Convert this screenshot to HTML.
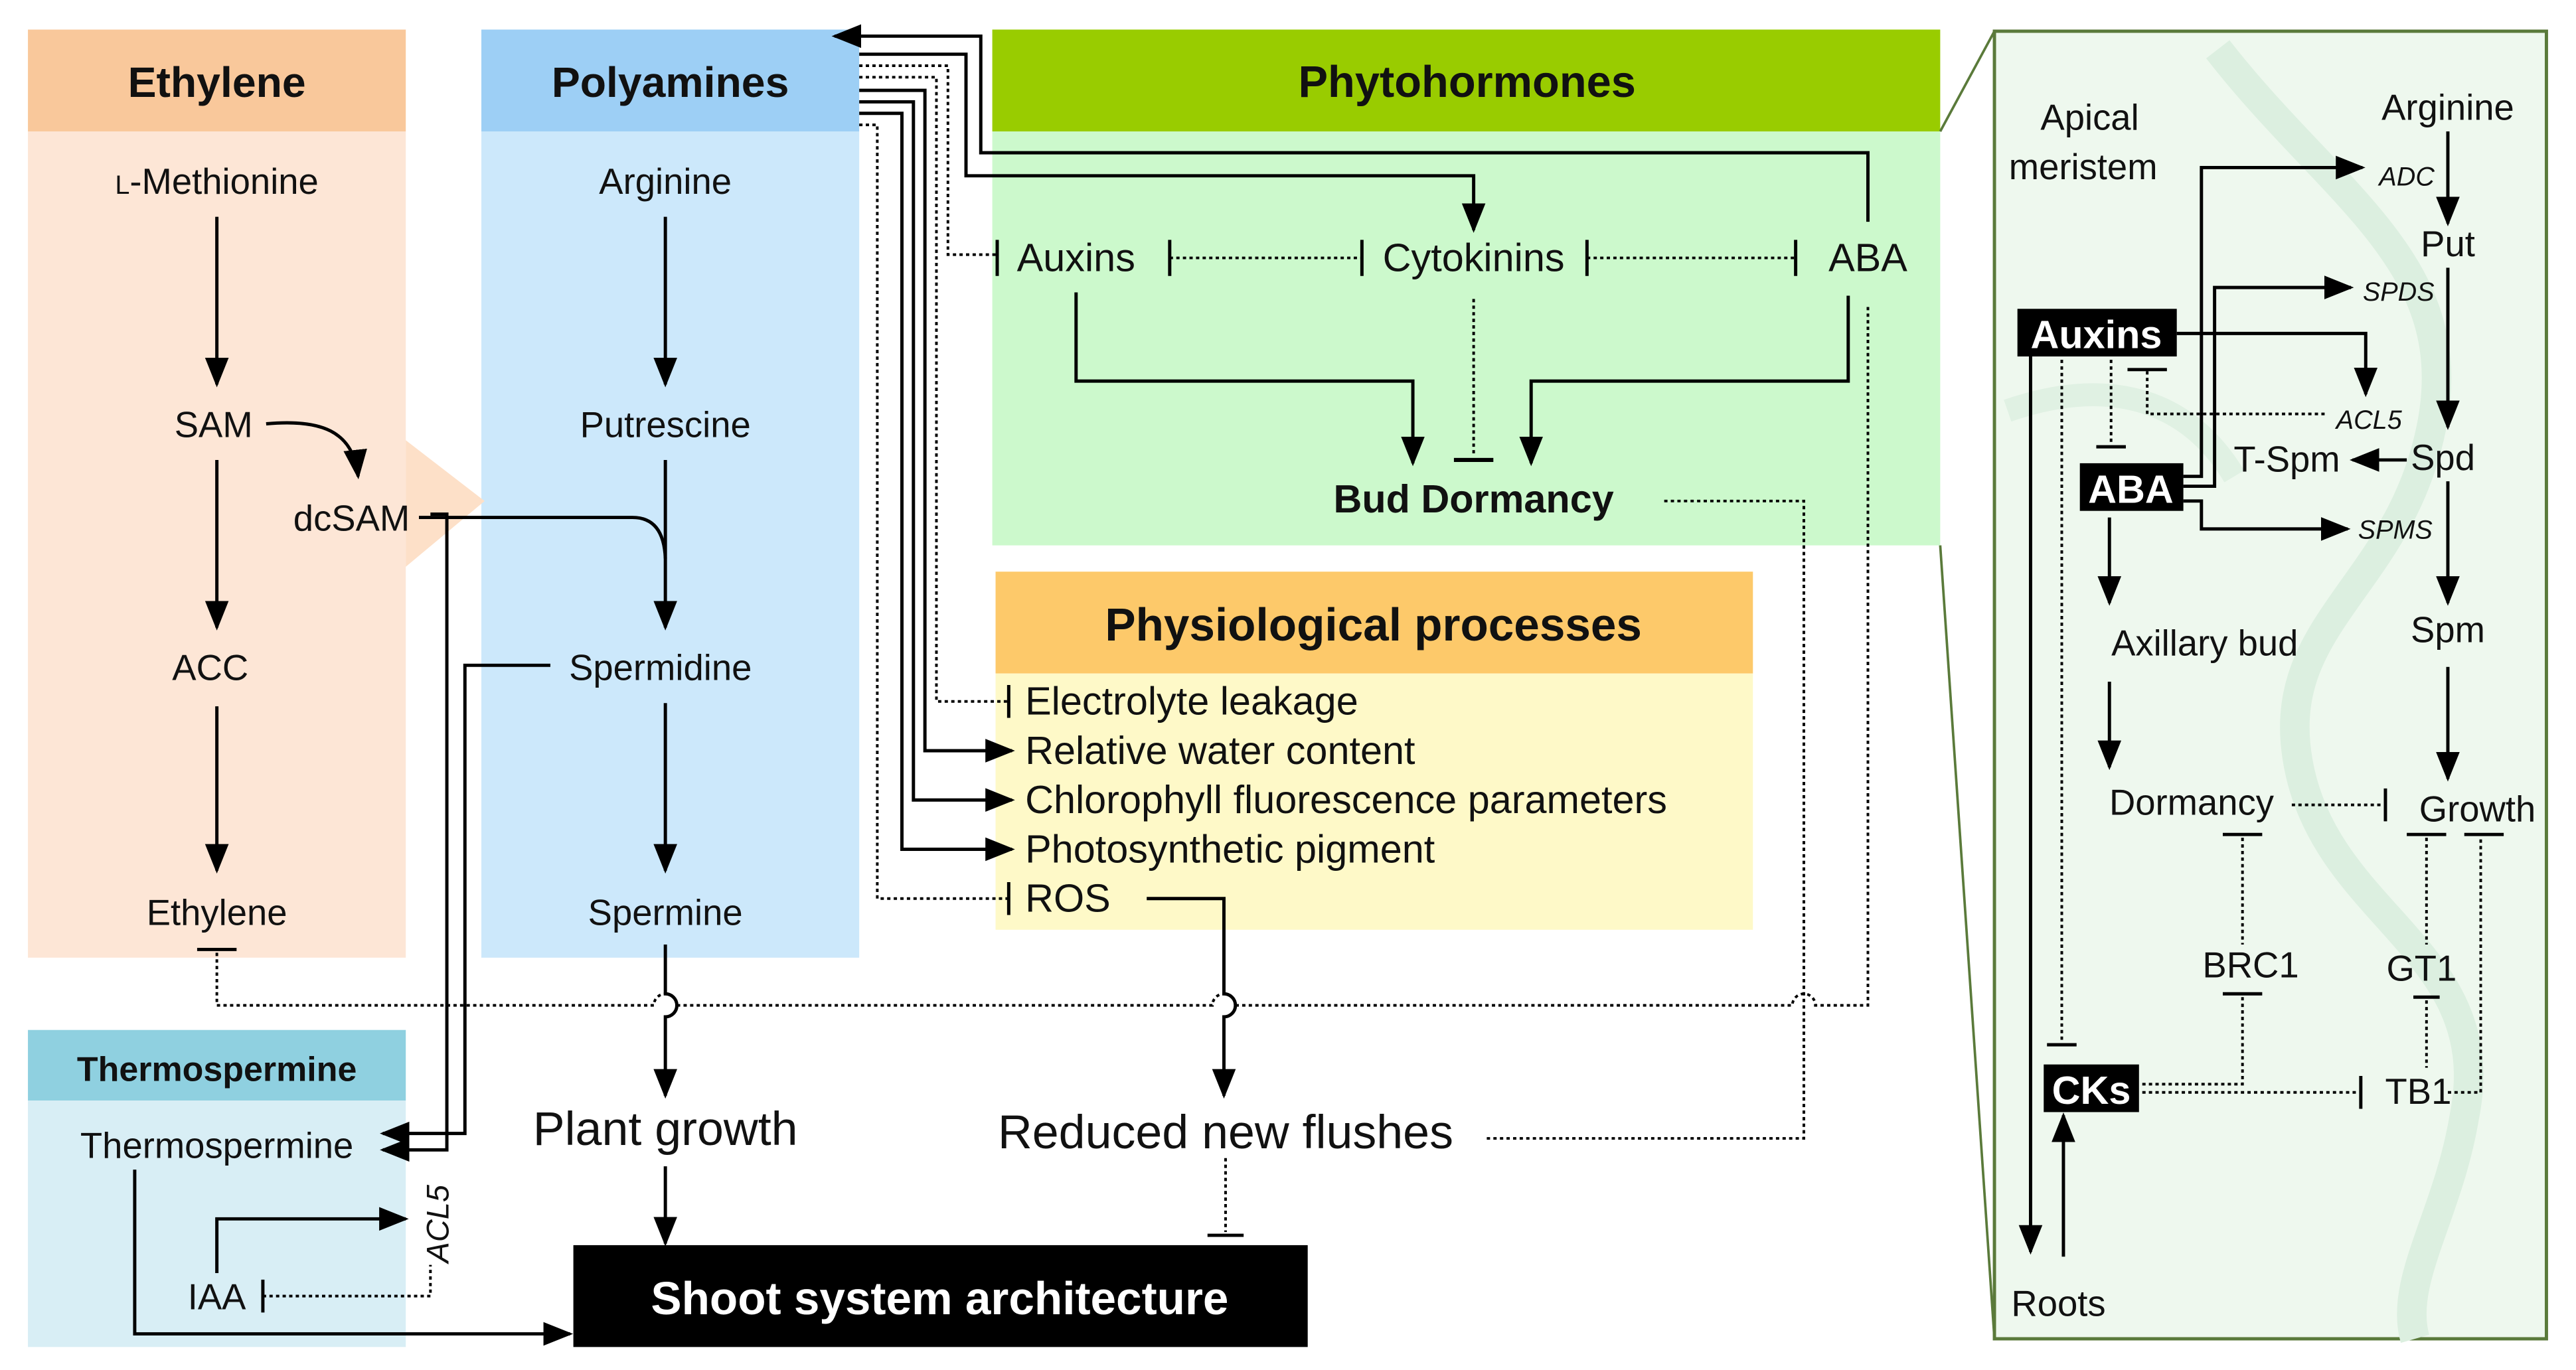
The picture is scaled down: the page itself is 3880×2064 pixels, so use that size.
<!DOCTYPE html>
<html><head><meta charset="utf-8"><style>
html,body{margin:0;padding:0;background:#fff}
svg{display:block}
text{font-family:"Liberation Sans Narrow","Liberation Sans",sans-serif;fill:#111}
.b{font-weight:bold}
.r{font-family:"Liberation Sans",sans-serif}
</style></head><body>
<svg width="3880" height="2064" viewBox="0 0 1568 834" preserveAspectRatio="none" xmlns="http://www.w3.org/2000/svg">
<defs>
<marker id="A" viewBox="0 0 10 10" refX="9" refY="5" markerWidth="18" markerHeight="18" orient="auto-start-reverse" markerUnits="userSpaceOnUse"><path d="M0,1L10,5L0,9z" fill="#000"/></marker>
</defs>
<!-- panels -->
<rect x="17" y="18" width="230" height="62" fill="#f9c89b"/>
<rect x="17" y="80" width="230" height="503" fill="#fde6d6"/>
<rect x="293" y="18" width="230" height="62" fill="#9dcff5"/>
<rect x="293" y="80" width="230" height="503" fill="#cce8fb"/>
<path d="M247,268 L295,305 L247,345 Z" fill="#fde0c8"/>
<rect x="604" y="18" width="577" height="62" fill="#99cc00"/>
<rect x="604" y="80" width="577" height="252" fill="#ccf9cc"/>
<rect x="606" y="348" width="461" height="62" fill="#fdc96a"/>
<rect x="606" y="410" width="461" height="156" fill="#fef9c8"/>
<rect x="17" y="627" width="230" height="43" fill="#8fd0e0"/>
<rect x="17" y="670" width="230" height="150" fill="#d8eef5"/>
<rect x="1214" y="19" width="336" height="796" fill="#eef8ee" stroke="#5a7a3a" stroke-width="2"/>
<path d="M1350,30 C1420,120 1500,160 1480,260 C1460,360 1380,380 1400,470 C1420,560 1520,580 1500,680 C1490,740 1460,780 1470,815" fill="none" stroke="#dcefe0" stroke-width="18"/>
<path d="M1222,250 C1280,230 1330,240 1360,290" fill="none" stroke="#e0f1e3" stroke-width="14"/>
<line x1="1181" y1="80" x2="1214" y2="19" stroke="#5a7a3a" stroke-width="1.5"/>
<line x1="1181" y1="332" x2="1214" y2="815" stroke="#5a7a3a" stroke-width="1.5"/>
<rect x="349" y="758" width="447" height="62" fill="#000"/>

<!-- headers -->
<text x="132" y="59" font-size="26" text-anchor="middle" class="b r">Ethylene</text>
<text x="408" y="59" font-size="26" text-anchor="middle" class="b r">Polyamines</text>
<text x="893" y="59" font-size="27" text-anchor="middle" class="b">Phytohormones</text>
<text x="836" y="390" font-size="28" text-anchor="middle" class="b">Physiological processes</text>
<text x="132" y="658" font-size="21" text-anchor="middle" class="b r">Thermospermine</text>
<text x="572" y="800" font-size="28" text-anchor="middle" class="b r" style="fill:#fff">Shoot system architecture</text>

<g font-size="22" text-anchor="middle" class="r">
<text x="132" y="118"><tspan font-size="16">L</tspan>-Methionine</text>
<text x="130" y="266">SAM</text>
<text x="214" y="323">dcSAM</text>
<text x="128" y="414">ACC</text>
<text x="132" y="563">Ethylene</text>
<text x="405" y="118">Arginine</text>
<text x="405" y="266">Putrescine</text>
<text x="402" y="414">Spermidine</text>
<text x="405" y="563">Spermine</text>
<text x="132" y="705">Thermospermine</text>
<text x="132" y="797">IAA</text>
<text x="405" y="697" font-size="29">Plant growth</text>
<text x="746" y="699" font-size="29">Reduced new flushes</text>
</g>
<text transform="translate(273,745) rotate(-90)" font-size="19" text-anchor="middle" font-style="italic" class="r">ACL5</text>

<g font-size="24">
<text x="655" y="165" text-anchor="middle">Auxins</text>
<text x="897" y="165" text-anchor="middle">Cytokinins</text>
<text x="1137" y="165" text-anchor="middle">ABA</text>
<text x="897" y="312" text-anchor="middle" class="b">Bud Dormancy</text>
</g>
<g font-size="24">
<text x="624" y="435">Electrolyte leakage</text>
<text x="624" y="465">Relative water content</text>
<text x="624" y="495">Chlorophyll fluorescence parameters</text>
<text x="624" y="525">Photosynthetic pigment</text>
<text x="624" y="555">ROS</text>
</g>

<g fill="none" stroke="#000" stroke-width="2">
<line x1="132" y1="132" x2="132" y2="234" marker-end="url(#A)"/>
<line x1="132" y1="280" x2="132" y2="382" marker-end="url(#A)"/>
<line x1="132" y1="430" x2="132" y2="530" marker-end="url(#A)"/>
<path d="M162,258 C195,255 215,262 218,290" marker-end="url(#A)"/>
<line x1="405" y1="132" x2="405" y2="234" marker-end="url(#A)"/>
<path d="M405,280 L405,382" marker-end="url(#A)"/>
<line x1="405" y1="428" x2="405" y2="530" marker-end="url(#A)"/>
<path d="M255,315 L385,315 Q404,315 405,340"/>
<path d="M262,313 L272,313 L272,700 L233,700" marker-end="url(#A)"/>
<path d="M335,405 L283,405 L283,690 L233,690" marker-end="url(#A)"/>
<path d="M405,575 L405,605 A7,7 0 0 1 405,619 L405,667" marker-end="url(#A)"/>
<line x1="405" y1="710" x2="405" y2="757" marker-end="url(#A)"/>
<path d="M82,712 L82,812 L347,812" marker-end="url(#A)"/>
<path d="M132,775 L132,742 L247,742" marker-end="url(#A)"/>
<line x1="160" y1="779" x2="160" y2="799"/>
<line x1="120" y1="578" x2="144" y2="578"/>
<path d="M698,547 L745,547 L745,605 A7,7 0 0 1 745,619 L745,667" marker-end="url(#A)"/>
<line x1="735" y1="752" x2="757" y2="752"/>
<path d="M1137,135 L1137,93 L597,93 L597,22 L508,22" marker-end="url(#A)"/>
<path d="M523,33 L588,33 L588,107 L897,107 L897,140" marker-end="url(#A)"/>
<path d="M523,55 L563,55 L563,457 L616,457" marker-end="url(#A)"/>
<path d="M523,62 L556,62 L556,487 L616,487" marker-end="url(#A)"/>
<path d="M523,69 L549,69 L549,517 L616,517" marker-end="url(#A)"/>
<line x1="614" y1="417" x2="614" y2="437"/>
<line x1="614" y1="537" x2="614" y2="557"/>
<line x1="607" y1="146" x2="607" y2="168"/>
<line x1="712" y1="146" x2="712" y2="168"/>
<line x1="829" y1="146" x2="829" y2="168"/>
<line x1="966" y1="146" x2="966" y2="168"/>
<line x1="1093" y1="146" x2="1093" y2="168"/>
<path d="M655,178 L655,232 L860,232 L860,282" marker-end="url(#A)"/>
<path d="M1125,180 L1125,232 L932,232 L932,282" marker-end="url(#A)"/>
<line x1="885" y1="280" x2="909" y2="280" stroke-width="2.5"/>
</g>
<g fill="none" stroke="#000" stroke-width="1.6" stroke-dasharray="2,2">
<path d="M132,580 L132,612 L398,612 A7,7 0 0 1 412,612 L738,612 A7,7 0 0 1 752,612 L1091,612 A7,7 0 0 1 1105,612 L1137,612 L1137,185"/>
<path d="M160,789 L262,789 L262,770"/>
<path d="M746,705 L746,750"/>
<path d="M905,693 L1098,693 L1098,305 L1013,305"/>
<path d="M897,182 L897,278"/>
<path d="M712,157 L829,157"/><path d="M966,157 L1093,157"/>
<path d="M523,40 L577,40 L577,155 L607,155"/>
<path d="M523,47 L570,47 L570,427 L614,427"/>
<path d="M523,76 L534,76 L534,547 L614,547"/>
</g>

<!-- right panel -->
<g font-size="22" text-anchor="middle" class="r">
<text x="1272" y="79">Apical</text>
<text x="1268" y="109">meristem</text>
<text x="1490" y="73">Arginine</text>
<text x="1490" y="156">Put</text>
<text x="1487" y="286">Spd</text>
<text x="1392" y="287">T-Spm</text>
<text x="1490" y="391">Spm</text>
<text x="1342" y="399">Axillary bud</text>
<text x="1334" y="496">Dormancy</text>
<text x="1508" y="500">Growth</text>
<text x="1370" y="595">BRC1</text>
<text x="1474" y="597">GT1</text>
<text x="1472" y="672">TB1</text>
<text x="1253" y="801">Roots</text>
</g>
<g font-size="16" text-anchor="middle" font-style="italic" class="r">
<text x="1465" y="113">ADC</text>
<text x="1460" y="183">SPDS</text>
<text x="1442" y="261">ACL5</text>
<text x="1458" y="328">SPMS</text>
</g>
<rect x="1228" y="188" width="97" height="29" fill="#000"/>
<rect x="1266" y="282" width="63" height="29" fill="#000"/>
<rect x="1244" y="648" width="58" height="29" fill="#000"/>
<g font-size="24" text-anchor="middle" class="b r">
<text x="1276" y="212" style="fill:#fff">Auxins</text>
<text x="1297" y="306" style="fill:#fff">ABA</text>
<text x="1273" y="672" style="fill:#fff">CKs</text>
</g>
<g fill="none" stroke="#000" stroke-width="2">
<line x1="1490" y1="80" x2="1490" y2="136" marker-end="url(#A)"/>
<line x1="1490" y1="163" x2="1490" y2="260" marker-end="url(#A)"/>
<line x1="1490" y1="293" x2="1490" y2="367" marker-end="url(#A)"/>
<line x1="1490" y1="406" x2="1490" y2="474" marker-end="url(#A)"/>
<line x1="1465" y1="280" x2="1432" y2="280" marker-end="url(#A)"/>
<path d="M1329,290 L1340,290 L1340,102 L1438,102" marker-end="url(#A)"/>
<path d="M1329,296 L1348,296 L1348,175 L1431,175" marker-end="url(#A)"/>
<path d="M1325,203 L1440,203 L1440,240" marker-end="url(#A)"/>
<path d="M1329,305 L1340,305 L1340,322 L1429,322" marker-end="url(#A)"/>
<line x1="1284" y1="315" x2="1284" y2="367" marker-end="url(#A)"/>
<line x1="1284" y1="415" x2="1284" y2="467" marker-end="url(#A)"/>
<line x1="1236" y1="217" x2="1236" y2="762" marker-end="url(#A)"/>
<line x1="1256" y1="765" x2="1256" y2="679" marker-end="url(#A)"/>
<line x1="1295" y1="225" x2="1319" y2="225"/>
<line x1="1276" y1="272" x2="1294" y2="272"/>
<line x1="1452" y1="480" x2="1452" y2="500"/>
<line x1="1353" y1="508" x2="1377" y2="508"/>
<line x1="1465" y1="508" x2="1489" y2="508"/>
<line x1="1500" y1="508" x2="1524" y2="508"/>
<line x1="1353" y1="605" x2="1377" y2="605"/>
<line x1="1469" y1="607" x2="1485" y2="607"/>
<line x1="1437" y1="655" x2="1437" y2="675"/>
<line x1="1246" y1="636" x2="1264" y2="636"/>
</g>
<g fill="none" stroke="#000" stroke-width="1.6" stroke-dasharray="2,2">
<path d="M1307,226 L1307,252 L1415,252"/>
<path d="M1285,219 L1285,271"/>
<path d="M1255,219 L1255,635"/>
<path d="M1395,490 L1451,490"/>
<path d="M1365,510 L1365,575"/>
<path d="M1365,607 L1365,660 L1304,660"/>
<path d="M1477,510 L1477,575"/>
<path d="M1477,609 L1477,650"/>
<path d="M1304,665 L1436,665"/>
<path d="M1490,665 L1510,665 L1510,510"/>
</g>
</svg>
</body></html>
